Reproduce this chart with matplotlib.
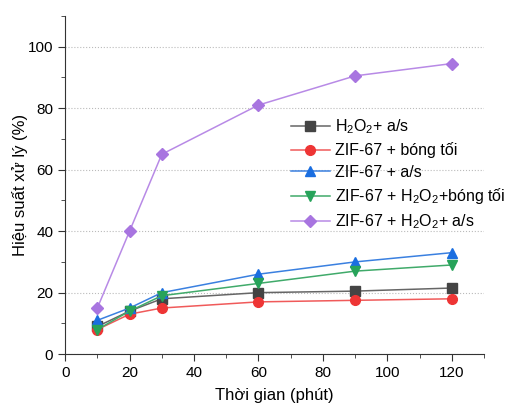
import matplotlib
matplotlib.use("Agg")
import matplotlib.pyplot as plt

plt.rcParams['font.family'] = ['Liberation Sans', 'DejaVu Sans']
plt.rcParams['mathtext.fontset'] = 'custom'
plt.rcParams['mathtext.rm'] = 'Liberation Sans'
plt.rcParams['mathtext.it'] = 'Liberation Sans:italic'
plt.rcParams['mathtext.bf'] = 'Liberation Sans:bold'

t = [10, 20, 30, 60, 90, 120]
h2o2_as = [9, 14, 18, 20, 20.5, 21.5]
zif_dark = [8, 13, 15, 17, 17.5, 18]
zif_as = [11, 15, 20, 26, 30, 33]
zif_h2o2_dark = [8, 14, 19, 23, 27, 29]
zif_h2o2_as = [15, 40, 65, 81, 90.5, 94.5]

series = [
    (h2o2_as, "H$_2$O$_2$+ a/s", "#444444", "#666666", "s"),
    (zif_dark, "ZIF-67 + bóng tối", "#ee3535", "#f05a5a", "o"),
    (zif_as, "ZIF-67 + a/s", "#1a6ee0", "#3a80e0", "^"),
    (zif_h2o2_dark, "ZIF-67 + H$_2$O$_2$+bóng tối", "#27a35a", "#40aa6a", "v"),
    (zif_h2o2_as, "ZIF-67 + H$_2$O$_2$+ a/s", "#a875e0", "#b88ae6", "D"),
]

fig = plt.figure(figsize=(5.21, 4.08), dpi=100)
ax = fig.add_axes([0.125, 0.132, 0.804, 0.829])
for y, lab, mc, lc, mk in series:
    ax.plot(t, y, color=lc, lw=1.1, marker=mk, ms=7 if mk != "D" else 6,
            mfc=mc, mec=mc, label=lab)

ax.set_xlim(0, 130)
ax.set_ylim(0, 110)
ax.set_xticks(range(0, 121, 20))
ax.set_xticks(range(10, 131, 20), minor=True)
ax.set_yticks(range(0, 101, 20))
ax.set_yticks(range(10, 111, 20), minor=True)
ax.grid(axis="y", which="major", ls=":", color="#bbbbbb", lw=0.8)
ax.set_axisbelow(True)
for s in ("top", "right"):
    ax.spines[s].set_visible(False)
for s in ("left", "bottom"):
    ax.spines[s].set_color("#333333")
ax.tick_params(axis="both", which="major", length=5, labelsize=11, color="#333333")
ax.tick_params(axis="both", which="minor", length=3, color="#333333")
ax.set_xlabel("Thời gian (phút)", fontsize=12, labelpad=6)
ax.set_ylabel("Hiệu suất xử lý (%)", fontsize=12, labelpad=0)
ax.legend(loc="upper left", bbox_to_anchor=(0.539, 0.70), frameon=False,
          fontsize=11.5, handlelength=2.45, handletextpad=0.3, labelspacing=0.4,
          borderaxespad=0, borderpad=0)

fig.savefig("out.png", dpi=100)
